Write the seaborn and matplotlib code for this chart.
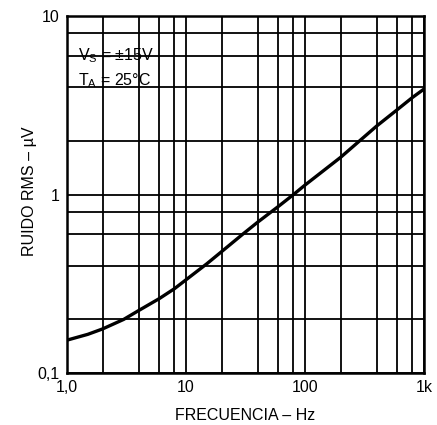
import numpy as np
import pandas as pd
import matplotlib
matplotlib.use("Agg")
import matplotlib.pyplot as plt
import seaborn as sns
from matplotlib.ticker import FixedLocator, NullFormatter

# Noise curve
freq_hz = [1, 1.5, 2, 3, 4, 6, 8, 10, 15, 20, 30, 40, 60, 80, 100, 200, 400, 600, 800, 1000]
noise_uv = [0.153, 0.165, 0.177, 0.20, 0.224, 0.262, 0.297, 0.333, 0.41, 0.48, 0.60,
            0.70, 0.86, 1.0, 1.13, 1.62, 2.42, 3.0, 3.5, 3.9]

x_ticks = [1, 10, 100, 1000]
x_labels = ["1,0", "10", "100", "1k"]
y_ticks = [0.1, 1, 10]
y_labels = ["0,1", "1", "10"]
minor_steps = [2, 4, 6, 8]

df = pd.DataFrame({"freq": freq_hz, "noise": noise_uv})

sns.set_theme(style="white")
plt.rcParams["font.family"] = ["Liberation Sans", "DejaVu Sans"]

fig = plt.figure(figsize=(4.37, 4.25), dpi=100)
ax = fig.add_axes([0.153, 0.122, 0.817, 0.84])

sns.lineplot(data=df, x="freq", y="noise", ax=ax, color="black", linewidth=2.4)

ax.set_xscale("log")
ax.set_yscale("log")
ax.set_xlim(1, 1000)
ax.set_ylim(0.1, 10)

x_minor = [m * d for d in [1, 10, 100] for m in minor_steps]
y_minor = [m * d for d in [0.1, 1] for m in minor_steps]
ax.xaxis.set_major_locator(FixedLocator(x_ticks))
ax.xaxis.set_minor_locator(FixedLocator(x_minor))
ax.yaxis.set_major_locator(FixedLocator(y_ticks))
ax.yaxis.set_minor_locator(FixedLocator(y_minor))
ax.set_xticklabels(x_labels)
ax.set_yticklabels(y_labels)
ax.xaxis.set_minor_formatter(NullFormatter())
ax.yaxis.set_minor_formatter(NullFormatter())

ax.grid(True, which="both", color="black", linewidth=1.3)
ax.tick_params(which="both", length=0, labelsize=11.5, colors="black", pad=5)
for sp in ax.spines.values():
    sp.set_color("black")
    sp.set_linewidth(1.8)

ax.set_xlabel("FRECUENCIA – Hz", fontsize=11.5, color="black", labelpad=9)
ax.set_ylabel("RUIDO RMS – µV", fontsize=11.5, color="black")
ax.yaxis.set_label_coords(-0.084, 0.51)

ax.text(0.031, 0.877, "V$_\\mathregular{S}$ = ±15V", transform=ax.transAxes,
        fontsize=11.5, color="black", va="baseline")
ax.text(0.031, 0.807, "T$_\\mathregular{A}$ = 25°C", transform=ax.transAxes,
        fontsize=11.5, color="black", va="baseline")

fig.savefig("out.png", dpi=100)
